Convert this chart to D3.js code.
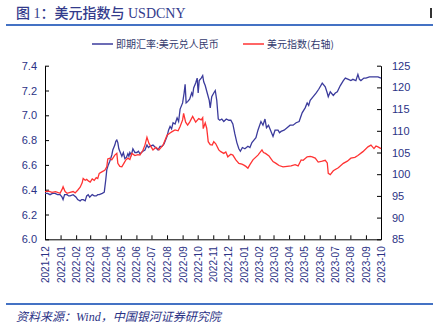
<!DOCTYPE html>
<html><head><meta charset="utf-8">
<script src="https://cdn.jsdelivr.net/npm/d3@7"></script>
<style>body{margin:0;background:#fff}svg{display:block}</style>
</head><body><svg id="c" width="433" height="324"></svg>
<script>
const title = "图 1：美元指数与 USDCNY";
const source = "资料来源：Wind，中国银河证券研究院";
const seriesNames = ["即期汇率:美元兑人民币", "美元指数(右轴)"];
const monthLabels = ["2021-12","2022-01","2022-02","2022-03","2022-04","2022-05","2022-06","2022-07","2022-08","2022-09","2022-10","2022-11","2022-12","2023-01","2023-02","2023-03","2023-04","2023-05","2023-06","2023-07","2023-08","2023-09","2023-10"];
const leftTicks = [6.0,6.2,6.4,6.6,6.8,7.0,7.2,7.4];
const rightTicks = [85,90,95,100,105,110,115,120,125];

const usdcny = [
["2021-12-01",6.37],["2021-12-06",6.37],["2021-12-11",6.36],["2021-12-16",6.37],["2021-12-21",6.37],["2021-12-26",6.36],["2021-12-31",6.36],["2022-01-04",6.34],["2022-01-06",6.32],["2022-01-09",6.36],["2022-01-14",6.36],["2022-01-17",6.35],["2022-01-20",6.35],["2022-01-26",6.36],["2022-02-01",6.34],["2022-02-04",6.32],["2022-02-09",6.31],["2022-02-12",6.32],["2022-02-15",6.32],["2022-02-19",6.31],["2022-02-22",6.35],["2022-02-25",6.36],["2022-02-28",6.34],["2022-03-05",6.36],["2022-03-09",6.35],["2022-03-13",6.35],["2022-03-16",6.36],["2022-03-19",6.36],["2022-03-25",6.37],["2022-03-29",6.38],["2022-04-01",6.48],["2022-04-03",6.56],["2022-04-06",6.60],["2022-04-09",6.63],["2022-04-13",6.68],["2022-04-15",6.72],["2022-04-19",6.76],["2022-04-21",6.79],["2022-04-23",6.80],["2022-04-25",6.78],["2022-04-27",6.73],["2022-04-30",6.70],["2022-05-03",6.67],["2022-05-06",6.70],["2022-05-09",6.65],["2022-05-12",6.66],["2022-05-15",6.69],["2022-05-17",6.67],["2022-05-19",6.70],["2022-05-22",6.68],["2022-05-25",6.73],["2022-05-29",6.70],["2022-06-02",6.70],["2022-06-05",6.71],["2022-06-08",6.69],["2022-06-14",6.71],["2022-06-18",6.72],["2022-06-22",6.76],["2022-06-25",6.74],["2022-06-28",6.75],["2022-07-04",6.76],["2022-07-09",6.74],["2022-07-14",6.72],["2022-07-18",6.75],["2022-07-22",6.75],["2022-07-26",6.77],["2022-08-01",6.83],["2022-08-04",6.88],["2022-08-07",6.91],["2022-08-10",6.89],["2022-08-13",6.94],["2022-08-17",6.93],["2022-08-21",6.98],["2022-08-24",6.95],["2022-08-27",7.05],["2022-09-01",7.10],["2022-09-04",7.18],["2022-09-06",7.25],["2022-09-08",7.10],["2022-09-11",7.11],["2022-09-15",7.13],["2022-09-19",7.18],["2022-09-21",7.16],["2022-09-23",7.22],["2022-09-27",7.26],["2022-09-30",7.30],["2022-10-02",7.18],["2022-10-04",7.28],["2022-10-08",7.30],["2022-10-11",7.32],["2022-10-13",7.27],["2022-10-16",7.24],["2022-10-20",7.18],["2022-10-24",7.12],["2022-10-26",7.06],["2022-10-29",7.15],["2022-11-02",7.18],["2022-11-05",7.20],["2022-11-08",7.12],["2022-11-11",6.97],["2022-11-14",6.96],["2022-11-18",6.97],["2022-11-22",6.95],["2022-11-27",6.97],["2022-12-02",6.96],["2022-12-06",6.96],["2022-12-10",6.93],["2022-12-14",6.85],["2022-12-18",6.78],["2022-12-22",6.73],["2022-12-25",6.71],["2022-12-29",6.74],["2023-01-03",6.73],["2023-01-09",6.75],["2023-01-13",6.74],["2023-01-17",6.78],["2023-01-21",6.80],["2023-01-25",6.82],["2023-01-29",6.88],["2023-02-04",6.95],["2023-02-08",6.92],["2023-02-12",6.97],["2023-02-15",6.90],["2023-02-19",6.92],["2023-02-23",6.88],["2023-02-28",6.83],["2023-03-04",6.88],["2023-03-10",6.88],["2023-03-13",6.86],["2023-03-16",6.87],["2023-03-22",6.88],["2023-03-28",6.90],["2023-04-03",6.92],["2023-04-09",6.92],["2023-04-15",6.94],["2023-04-21",6.95],["2023-04-27",7.02],["2023-05-03",7.06],["2023-05-07",7.10],["2023-05-10",7.08],["2023-05-13",7.12],["2023-05-19",7.15],["2023-05-25",7.18],["2023-05-30",7.21],["2023-06-06",7.26],["2023-06-12",7.23],["2023-06-16",7.18],["2023-06-18",7.15],["2023-06-22",7.19],["2023-06-28",7.16],["2023-07-02",7.18],["2023-07-06",7.19],["2023-07-12",7.24],["2023-07-18",7.28],["2023-07-22",7.30],["2023-07-28",7.29],["2023-08-02",7.28],["2023-08-06",7.29],["2023-08-12",7.28],["2023-08-16",7.33],["2023-08-19",7.29],["2023-08-22",7.28],["2023-08-28",7.30],["2023-09-01",7.30],["2023-09-08",7.31],["2023-09-17",7.31],["2023-09-25",7.31],["2023-10-01",7.30]
];

const dxy = [
["2021-12-01",96.0],["2021-12-08",96.1],["2021-12-15",95.8],["2021-12-22",96.0],["2021-12-31",95.6],["2022-01-04",96.5],["2022-01-06",97.1],["2022-01-10",96.0],["2022-01-14",95.6],["2022-01-20",95.8],["2022-01-26",96.0],["2022-01-30",95.7],["2022-02-04",96.3],["2022-02-09",97.0],["2022-02-13",98.0],["2022-02-15",99.0],["2022-02-19",98.6],["2022-02-22",98.8],["2022-02-26",98.4],["2022-03-01",98.2],["2022-03-05",98.9],["2022-03-09",98.6],["2022-03-13",99.2],["2022-03-16",99.0],["2022-03-19",100.2],["2022-03-25",100.6],["2022-03-30",100.9],["2022-04-03",101.7],["2022-04-05",103.5],["2022-04-09",103.7],["2022-04-13",103.3],["2022-04-19",104.4],["2022-04-23",104.8],["2022-04-25",102.5],["2022-04-29",101.8],["2022-05-03",101.7],["2022-05-07",102.5],["2022-05-11",103.3],["2022-05-15",103.7],["2022-05-19",103.4],["2022-05-23",104.8],["2022-05-29",104.3],["2022-06-04",104.5],["2022-06-08",104.4],["2022-06-14",105.5],["2022-06-18",106.7],["2022-06-22",108.5],["2022-06-26",107.1],["2022-07-04",105.6],["2022-07-10",106.2],["2022-07-16",105.6],["2022-07-24",106.7],["2022-08-01",109.0],["2022-08-07",109.5],["2022-08-11",109.8],["2022-08-17",110.2],["2022-08-23",110.0],["2022-08-27",111.0],["2022-09-01",112.5],["2022-09-03",114.0],["2022-09-07",112.0],["2022-09-11",111.3],["2022-09-15",112.0],["2022-09-21",113.3],["2022-09-27",112.0],["2022-10-03",112.8],["2022-10-08",112.5],["2022-10-11",113.0],["2022-10-12",110.5],["2022-10-16",111.8],["2022-10-19",110.6],["2022-10-22",107.5],["2022-10-26",106.8],["2022-10-30",106.7],["2022-11-02",107.5],["2022-11-06",107.0],["2022-11-12",105.6],["2022-11-16",105.2],["2022-11-22",104.8],["2022-11-26",105.1],["2022-11-30",104.0],["2022-12-06",104.6],["2022-12-10",104.4],["2022-12-16",103.3],["2022-12-22",102.5],["2022-12-28",102.3],["2023-01-01",102.1],["2023-01-05",101.8],["2023-01-09",101.4],["2023-01-13",102.2],["2023-01-19",103.3],["2023-01-29",104.4],["2023-02-06",105.6],["2023-02-09",105.0],["2023-02-13",104.8],["2023-02-20",104.2],["2023-02-23",103.7],["2023-02-28",102.9],["2023-03-06",102.5],["2023-03-12",102.0],["2023-03-20",101.7],["2023-03-28",101.8],["2023-04-05",101.9],["2023-04-13",102.2],["2023-04-19",101.9],["2023-04-25",103.3],["2023-04-29",103.2],["2023-05-07",104.0],["2023-05-13",104.1],["2023-05-17",104.0],["2023-05-23",103.7],["2023-05-29",102.8],["2023-06-06",103.0],["2023-06-12",103.2],["2023-06-16",102.6],["2023-06-18",100.2],["2023-06-22",99.9],["2023-06-28",100.8],["2023-07-08",101.5],["2023-07-18",102.5],["2023-07-26",103.0],["2023-08-02",103.7],["2023-08-10",103.9],["2023-08-16",104.3],["2023-08-26",105.2],["2023-09-05",106.3],["2023-09-11",106.7],["2023-09-17",105.9],["2023-09-21",106.5],["2023-09-25",106.3],["2023-10-01",105.9]
];

const svg = d3.select("#c");
const navy = "#2b3285";
const parse = d3.timeParse("%Y-%m-%d");
const pm = d3.timeParse("%Y-%m");
const L = 45, R = 381, T = 65.7, B = 239.3;

const x = d3.scaleTime().domain([pm(monthLabels[0]), pm(monthLabels[monthLabels.length-1])]).range([L, R]);
const yL = d3.scaleLinear().domain([6.0, 7.4]).range([B, T]);
const yR = d3.scaleLinear().domain([85, 125]).range([B, T]);

// header
svg.append("text").attr("x", 16).attr("y", 18).attr("fill", "#333b8c")
  .style("font-family", "'Liberation Serif','Noto Sans CJK SC',serif").style("font-size", "14px").style("font-weight","500")
  .text(title);
svg.append("rect").attr("x", 6).attr("y", 24).attr("width", 427).attr("height", 2).attr("fill", "#4472c4");
svg.append("rect").attr("x", 430).attr("y", 8).attr("width", 2).attr("height", 10).attr("fill", "#333");
svg.append("rect").attr("x", 6).attr("y", 303).attr("width", 427).attr("height", 2).attr("fill", "#4472c4");
svg.append("text").attr("x", 16).attr("y", 321).attr("fill", navy)
  .style("font-family", "'Liberation Serif','Noto Sans CJK SC',serif").style("font-size", "12px").style("font-style","italic")
  .text(source);

// legend
const leg = [{c:"#3b3b9c", x:92, name:seriesNames[0]}, {c:"#ff3333", x:243, name:seriesNames[1]}];
leg.forEach(d => {
  svg.append("line").attr("x1", d.x).attr("x2", d.x+21).attr("y1", 44).attr("y2", 44).attr("stroke", d.c).attr("stroke-width", 1.5);
  svg.append("text").attr("x", d.x+24).attr("y", 47.5).attr("fill", "#333a6e")
    .style("font-family","'Noto Sans CJK SC',sans-serif").style("font-size","10px").text(d.name);
});

// axes
const fontAxis = "'Liberation Sans',Arial,sans-serif";
const gL = svg.append("g").attr("transform", `translate(${L},0)`)
  .call(d3.axisLeft(yL).tickValues(leftTicks).tickFormat(d3.format(".1f")).tickSizeInner(-4).tickSizeOuter(0).tickPadding(8));
const gR = svg.append("g").attr("transform", `translate(${R},0)`)
  .call(d3.axisRight(yR).tickValues(rightTicks).tickSizeInner(-4).tickSizeOuter(0).tickPadding(11));
const gX = svg.append("g").attr("transform", `translate(0,${B})`)
  .call(d3.axisBottom(x).tickValues(monthLabels.map(pm)).tickFormat(d3.timeFormat("%Y-%m")).tickSizeInner(-4).tickSizeOuter(0).tickPadding(7));
[gL, gR, gX].forEach(g => {
  g.selectAll("path,line").attr("stroke", "#000").attr("stroke-width", 1);
  g.selectAll("text").attr("fill", navy).style("font-family", fontAxis).style("font-size", "11px");
});
gX.selectAll("text").style("font-size","10px").attr("text-anchor","end")
  .attr("transform","rotate(-90)").attr("x", -7).attr("y", 0).attr("dy","0.35em");

// lines
const lineL = d3.line().x(d => x(parse(d[0]))).y(d => yL(d[1]));
const lineR = d3.line().x(d => x(parse(d[0]))).y(d => yR(d[1]));
svg.append("path").datum(usdcny).attr("d", lineL).attr("fill","none").attr("stroke","#3b3b9c").attr("stroke-width",1.3);
svg.append("path").datum(dxy).attr("d", lineR).attr("fill","none").attr("stroke","#ff3333").attr("stroke-width",1.3);
</script></body></html>
